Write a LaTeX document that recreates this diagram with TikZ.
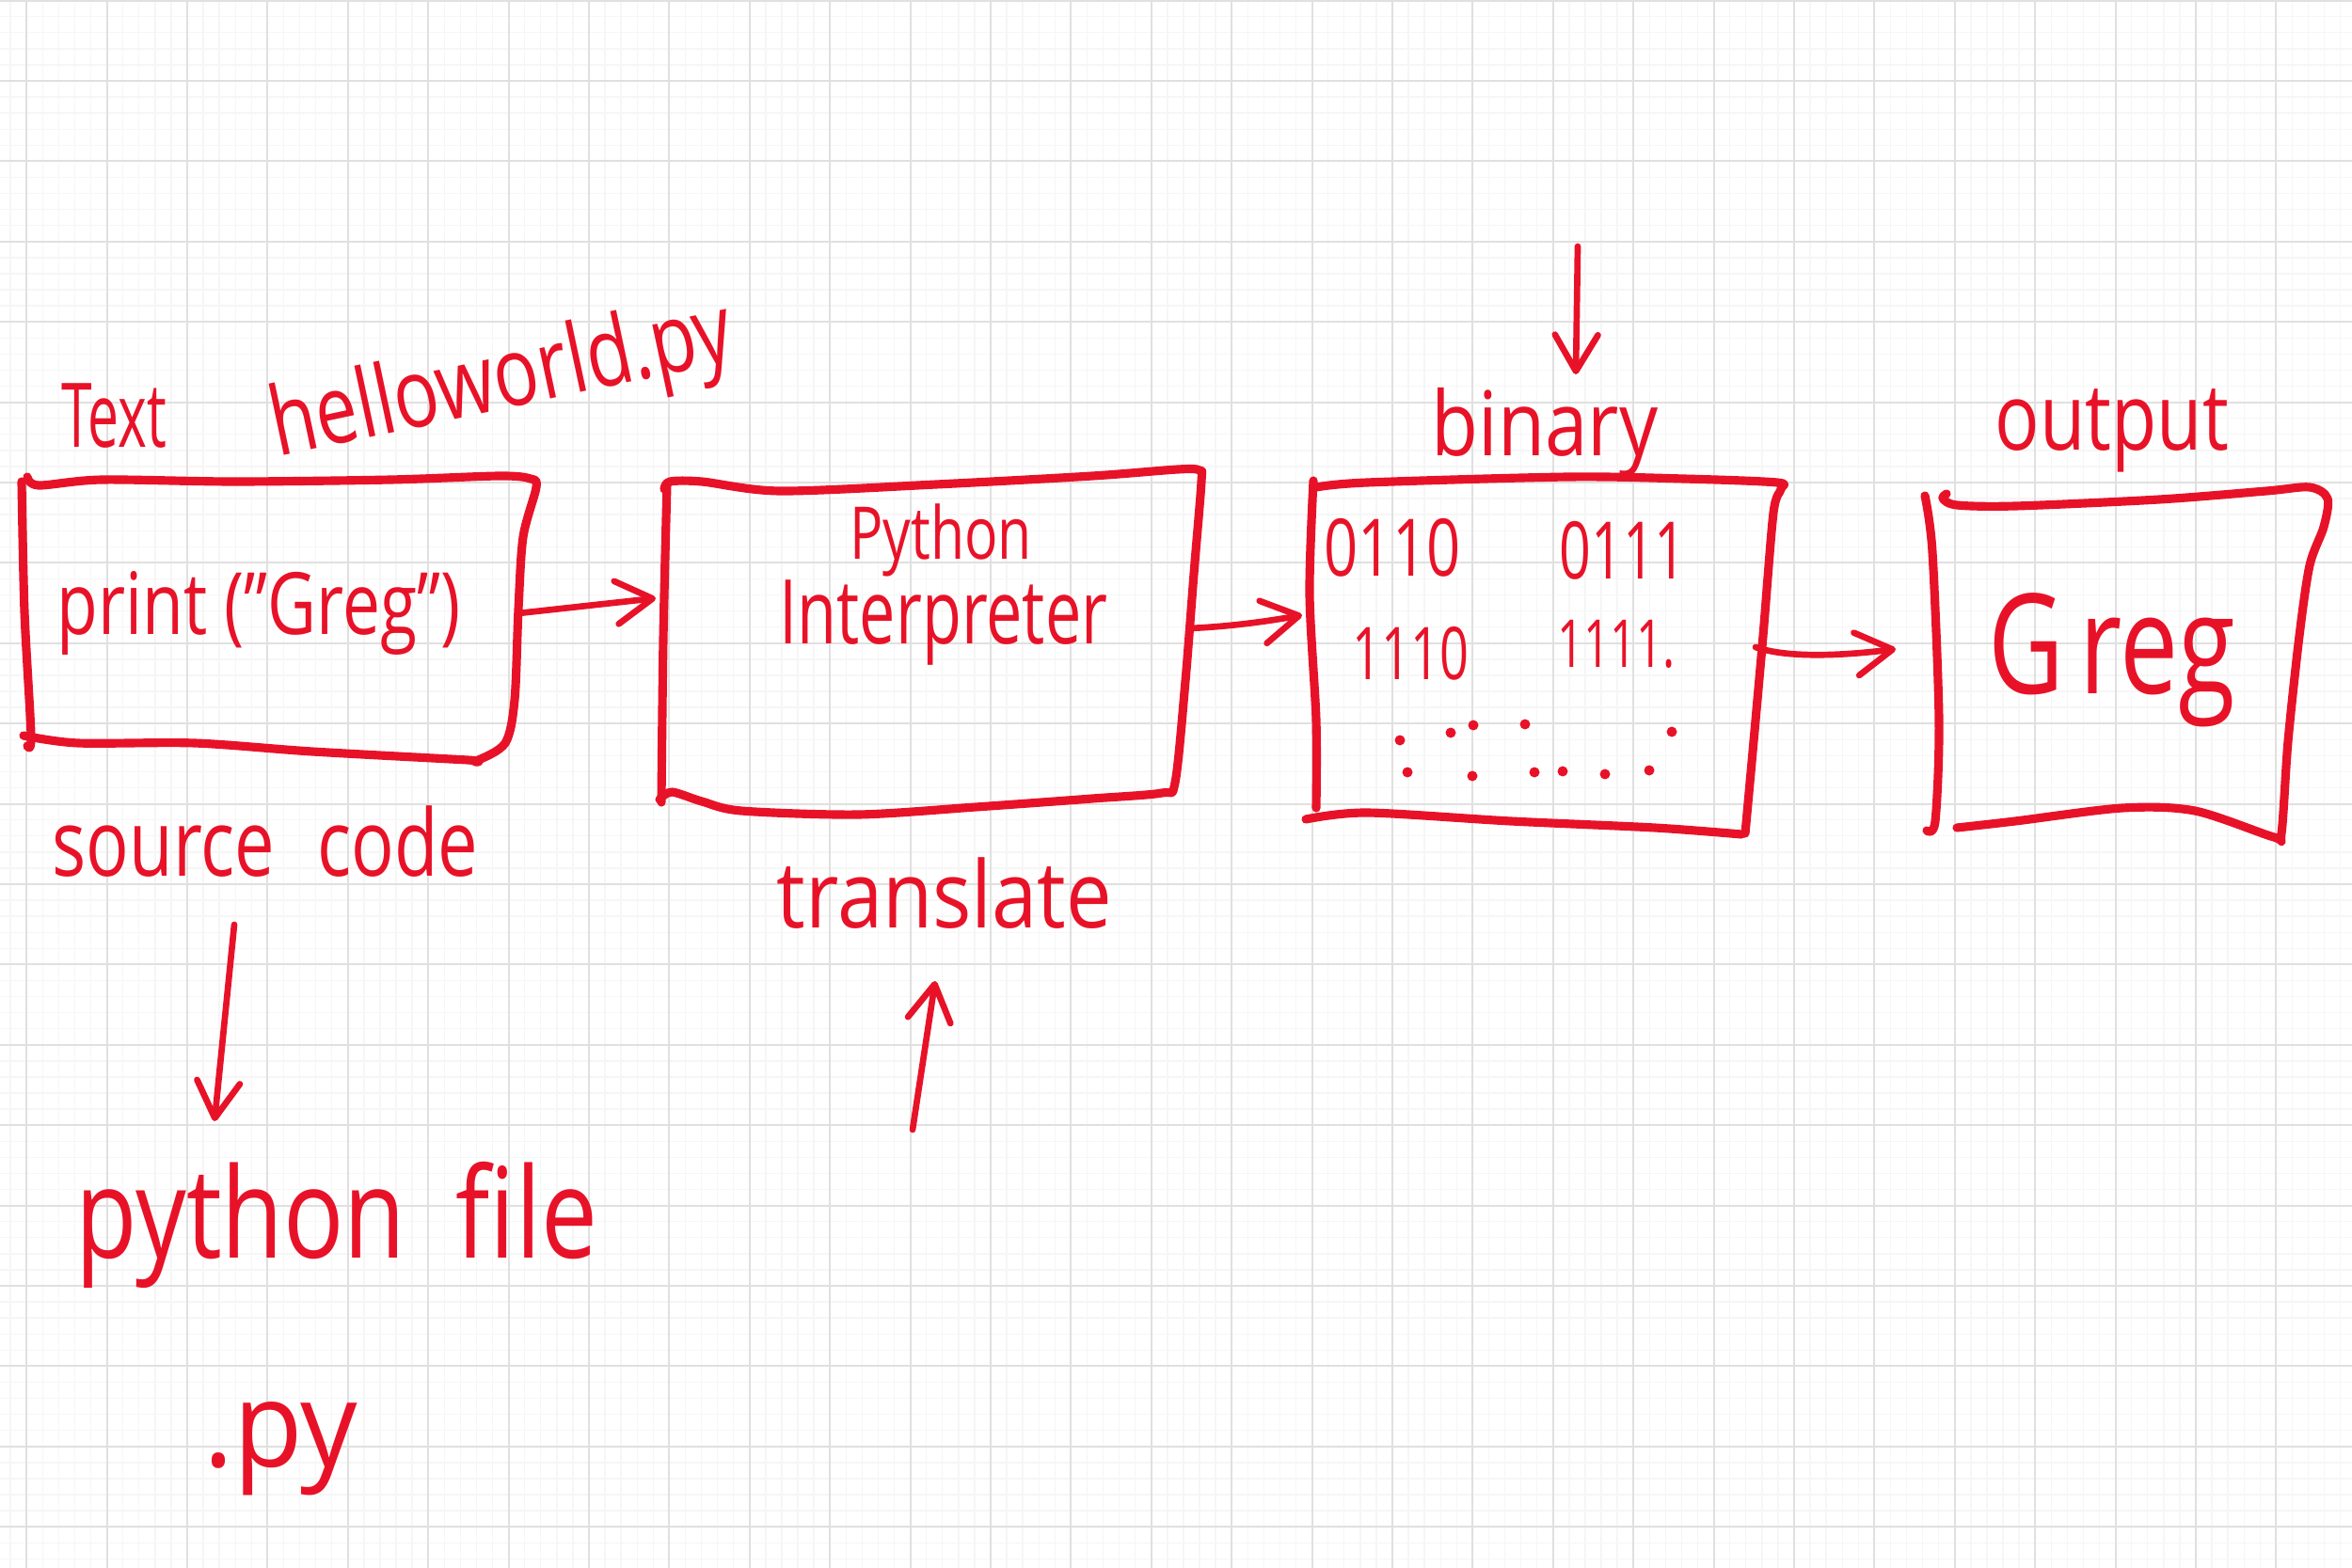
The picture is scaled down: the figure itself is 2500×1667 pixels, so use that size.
\documentclass[tikz,border=0pt]{standalone}
\usepackage{fontspec}
\setmainfont{Open Sans}
\usepackage{graphicx}
\usetikzlibrary{arrows.meta}
\definecolor{ink}{RGB}{232,18,40}
\definecolor{gridc}{RGB}{224,224,224}
\definecolor{gridm}{RGB}{246,246,246}
\newcommand{\hw}[2]{\scalebox{#1}[1]{#2}}
\begin{document}
\begin{tikzpicture}[x=0.01cm,y=-0.01cm,
  pen/.style={draw=ink, line width=2.6pt, line cap=round, line join=round},
  arrowpen/.style={draw=ink, line width=1.9pt, line cap=round, line join=round,
    -{Straight Barb[round,length=11pt,width=13pt]}},
  lbl/.style={text=ink, inner sep=0pt, font=\fontsize{#1}{#1}\selectfont},
  gridline/.style={draw=gridc, line width=0.6pt},
  minorline/.style={draw=gridm, line width=0.4pt},
  speck/.style={fill=ink, draw=none}]
\useasboundingbox (0,0) rectangle (2500,1667);
\fill[white] (0,0) rectangle (2500,1667);
% grid
\foreach \i in {0,...,146} {
  \draw[minorline] (11.1+17.08*\i,0) -- (11.1+17.08*\i,1667);
}
\foreach \i in {0,...,97} {
  \draw[minorline] (0,0.6+17.08*\i) -- (2500,0.6+17.08*\i);
}
\foreach \i in {0,...,28} {
  \draw[gridline] (28.2+85.4*\i,0) -- (28.2+85.4*\i,1667);
}
\foreach \i in {0,...,19} {
  \draw[gridline] (0,0.6+85.4*\i) -- (2500,0.6+85.4*\i);
}

% ---------- box 1: source code ----------
\draw[pen] plot[smooth,tension=0.5] coordinates {(29,507) (41,516) (108,510) (249,512) (415,510) (531,506) (564,509) (570,518) (556,571) (551,648) (547,744) (537,790) (506,809) (497,808) (332,799) (207,790) (83,790) (25,782)};
\draw[pen] plot[smooth,tension=0.5] coordinates {(23,512) (26,650) (33,782) (29,793)};

% ---------- box 2: interpreter ----------
\draw[pen] plot[smooth,tension=0.5] coordinates {(706,520) (712,512) (746,512) (829,522) (995,515) (1161,506) (1252,499) (1275,500) (1277,512) (1269,610) (1260,724) (1249,832) (1235,843) (1161,849) (1037,858) (912,866) (788,862) (746,852) (714,842) (701,850)};
\draw[pen] plot[smooth,tension=0.5] coordinates {(709,514) (705,680) (703,853)};

% ---------- box 3: binary ----------
\draw[pen] plot[smooth,tension=0.5] coordinates {(1396,511) (1392,632) (1399,766) (1399,859)};
\draw[pen] plot[smooth,tension=0.5] coordinates {(1399,518) (1453,513) (1667,507) (1790,509) (1889,513) (1893,520) (1885,545) (1874,676) (1862,810) (1855,886)};
\draw[pen] plot[smooth,tension=0.5] coordinates {(1388,871) (1453,864) (1606,873) (1759,880) (1851,887)};

% ---------- box 4: output ----------
\draw[pen] plot[smooth,tension=0.5] coordinates {(2046,527) (2054,587) (2061,766) (2057,873) (2048,883)};
\draw[pen] plot[smooth,tension=0.5] coordinates {(2069,525) (2065,530) (2080,537) (2142,538) (2295,531) (2409,522) (2455,518) (2474,530) (2470,560) (2455,601) (2444,676) (2432,788) (2425,886) (2417,890) (2333,862) (2256,859) (2142,873) (2080,880)};

% ---------- labels ----------
\node[lbl=27] (ltext) at (121,442) {\hw{0.62}{Text}};
\node[lbl=29, rotate=12] (lhello) at (534,408) {\hw{0.78}{helloworld.py}};
\node[lbl=26] (lprint) at (275,652) {\hw{0.78}{print\hspace{0.25em}("Greg")}};
\node[lbl=28] (lsource) at (282,895) {\hw{0.77}{source\hspace{0.6em}code}};
\node[lbl=22] (lpython) at (1000,574) {\hw{0.76}{Python}};
\node[lbl=27] (linterp) at (1003,662) {\hw{0.72}{Interpreter}};
\node[lbl=28] (ltrans) at (1004,950) {\hw{0.88}{translate}};
\node[lbl=27] (lbinary) at (1642,460) {\hw{0.86}{binary}};
\node[lbl=28] (loutput) at (2245,458) {\hw{0.8}{output}};
\node[lbl=42] (lgreg) at (2245,702) {\hw{0.75}{G\hspace{0.15em}reg}};
\node[lbl=24] (b0110) at (1480,582) {\hw{0.75}{0110}};
\node[lbl=24] (b0111) at (1725,585) {\hw{0.7}{0111}};
\node[lbl=22] (b1110) at (1499,695) {\hw{0.7}{1110}};
\node[lbl=20] (b1111) at (1718,685) {\hw{0.7}{1111.}};
\node[lbl=38] (lpyfile) at (358,1302) {\hw{0.8}{python\hspace{0.5em}file}};
\node[lbl=36] (lpy) at (298,1540) {\hw{0.95}{.py}};

% binary filler specks
\foreach \p in {(1488,787),(1542,779),(1566,771),(1661,820),(1706,823),(1753,819),(1631,821),(1496,821),(1565,825),(1621,770),(1777,778)} {
  \fill[speck] \p circle (5.5);
}

% ---------- connectors ----------
\coordinate (c1s) at (551,652);
\coordinate (c1e) at (697,636);
\coordinate (c2s) at (1264,668);
\coordinate (c2e) at (1384,654);
\coordinate (c3s) at (1866,688);
\coordinate (c3e) at (2015,690);
\coordinate (tops) at (1677,262);
\coordinate (tope) at (1675,398);
\coordinate (srcs) at (249,983);
\coordinate (srce) at (228,1192);
\coordinate (trs) at (970,1201);
\coordinate (tre) at (994,1043);

\draw[arrowpen] (c1s) -- (c1e);
\draw[arrowpen] (c2s) .. controls (1310,666) and (1350,660) .. (c2e);
\draw[arrowpen] (c3s) .. controls (1900,700) and (1960,697) .. (c3e);
\draw[arrowpen] (tops) -- (tope);
\draw[arrowpen] (srcs) -- (srce);
\draw[arrowpen] (trs) -- (tre);
\end{tikzpicture}
\end{document}
